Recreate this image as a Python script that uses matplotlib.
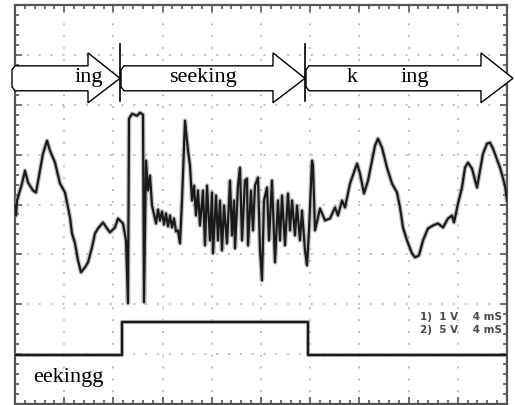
import numpy as np
import matplotlib.pyplot as plt
from matplotlib.patches import Polygon
from matplotlib.ticker import MultipleLocator

# Kanał 1 (sygnał analogowy): indeks próbki i poziom (50 jednostek na działkę)
ch1_t = [0, 1, 2, 7, 10, 13, 18, 21, 25, 28, 32, 35, 40, 45, 50, 53, 55, 57, 60, 63,
         66, 70, 73, 77, 80, 83, 88, 92, 95, 100, 103, 108, 111, 113, 114, 117, 122, 125, 128, 129,
         131, 133, 135, 137, 139, 141, 143, 145, 147, 149, 151, 153, 155, 157, 159, 161, 163,
         165, 167, 170, 173, 175, 177, 179, 181, 183, 185,
         188, 190, 192, 195, 197, 198, 201, 203, 205, 207, 209, 212, 215, 217, 219, 220, 223, 225, 227, 230,
         232, 233, 236, 238, 240, 243, 245, 247, 249, 252, 254, 257, 259, 260, 263, 265, 267, 270, 273, 275,
         277, 280, 282, 285, 287, 290, 292, 294, 297, 298, 300, 305, 310, 315, 320, 323, 327, 330, 335, 342,
         345, 349, 353, 357, 360, 363, 367, 372, 377, 382, 385, 388, 392, 397, 400, 404, 408, 413, 418, 423,
         428, 433, 437, 439, 443, 447, 450, 453, 457, 462, 465, 468, 472, 475, 478, 485, 490, 492]
ch1_v = [199, 189, 204, 221, 234, 222, 214, 212, 234, 251, 264, 254, 242, 221, 212, 197, 187, 171, 161, 144,
         132, 137, 142, 157, 171, 176, 182, 176, 172, 177, 186, 181, 164, 101, 286, 291, 289, 292, 290, 102,
         244, 214, 229, 199, 190, 181, 195, 184, 193, 180, 191, 178, 189, 177, 186, 173, 174,
         161, 204, 284, 254, 239, 204, 219, 189, 214, 179,
         214, 159, 219, 164, 212, 151, 209, 164, 204, 154, 199, 161, 224, 169, 204, 156, 219, 237, 164, 224,
         226, 159, 214, 174, 219, 227, 154, 124, 204, 217, 164, 224, 169, 142, 204, 164, 209, 159, 211, 174,
         204, 169, 199, 164, 194, 154, 139, 174, 244, 239, 174, 196, 184, 186, 197, 189, 204, 197, 221, 241,
         231, 211, 224, 244, 259, 266, 257, 237, 221, 212, 197, 177, 164, 151, 147, 149, 164, 176, 179, 181,
         177, 186, 189, 182, 201, 217, 237, 242, 236, 217, 234, 251, 261, 262, 256, 237, 219, 204]

# Kanał 2 (sygnał cyfrowy)
ch2_t = [0, 107, 107, 293, 293, 492]
ch2_v = [49, 49, 82, 82, 49, 49]

# Etapy (strzałki u góry)
stage_start = [-3, 106, 291]
stage_tip = [105, 290, 498]
stage_labels = [['ing'], ['seeking'], ['k', 'ing']]
label_pos = [[74], [188], [337, 400]]
separators = [105, 290]

div_t = 49.2
fig = plt.figure(figsize=(5.15, 4.05), dpi=100)
ax = fig.add_axes([15 / 515, 1 / 405, 492 / 515, 399 / 405])
ax.set_xlim(0, 10 * div_t)
ax.set_ylim(0, 400)

ax.xaxis.set_major_locator(MultipleLocator(div_t))
ax.xaxis.set_minor_locator(MultipleLocator(div_t / 5))
ax.yaxis.set_major_locator(MultipleLocator(50))
ax.yaxis.set_minor_locator(MultipleLocator(10))
ax.tick_params(which='both', direction='in', top=True, right=True,
               labelbottom=False, labelleft=False, colors='#555555', width=1.2)
ax.tick_params(which='major', length=5)
ax.tick_params(which='minor', length=3)
for s in ax.spines.values():
    s.set_color('#555555')
    s.set_linewidth(1.6)
ax.grid(True, which='major', color='#b5b5b5', linestyle=(0, (1.2, 5.9)), linewidth=1.2)

# przebiegi (szara poświata + ciemna linia)
ax.plot(ch2_t, ch2_v, color='#999999', lw=3.0, alpha=0.6, zorder=3)
ax.plot(ch2_t, ch2_v, color='#1a1a1a', lw=1.7, zorder=3)
ax.plot(ch1_t, ch1_v, color='#999999', lw=3.4, alpha=0.6, zorder=3)
ax.plot(ch1_t, ch1_v, color='#1a1a1a', lw=1.6, zorder=3)

# strzałki etapów
body_lo, body_hi = 314, 339
head_lo, head_hi = 302, 352
for s, tip in zip(stage_start, stage_tip):
    base = tip - 32
    pts = [(s + 3, body_hi), (base, body_hi), (base, head_hi), (tip, (body_lo + body_hi) / 2),
           (base, head_lo), (base, body_lo), (s + 3, body_lo), (s, body_lo + 4), (s, body_hi - 4)]
    ax.add_patch(Polygon(pts, closed=True, facecolor='white', edgecolor='black',
                         lw=1.0, clip_on=False, zorder=4))
for sx in separators:
    ax.plot([sx, sx], [304, 361], color='black', lw=1.2, zorder=5)
for labs, poss in zip(stage_labels, label_pos):
    for lab, p in zip(labs, poss):
        ax.text(p, 327, lab, ha='center', va='center', fontsize=16,
                family='Liberation Serif', zorder=6)

ax.text(18, 27, 'eekingg', ha='left', va='center', fontsize=16,
        family='Liberation Serif', zorder=6)
ax.text(487, 87, '1)  1 V    4 mS', ha='right', va='center', fontsize=7.5,
        fontweight='bold', color='#4a4a4a', zorder=6)
ax.text(487, 74, '2)  5 V    4 mS', ha='right', va='center', fontsize=7.5,
        fontweight='bold', color='#4a4a4a', zorder=6)

fig.savefig('out.png', dpi=100)
